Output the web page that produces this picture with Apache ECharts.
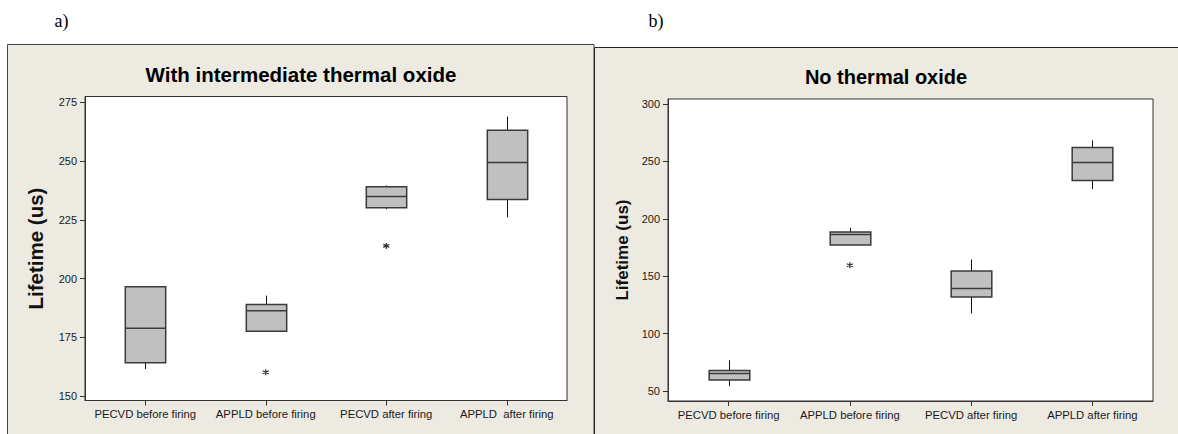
<!DOCTYPE html>
<html><head><meta charset="utf-8">
<script src="https://cdn.jsdelivr.net/npm/echarts@6/dist/echarts.min.js"></script>
<style>html,body{margin:0;padding:0;background:#fff}#c{width:1178px;height:434px}</style>
</head><body><div id="c"></div>
<script>
// ---- data ----
const categoriesA = ['PECVD before firing', 'APPLD before firing', 'PECVD after firing', 'APPLD  after firing'];
const categoriesB = ['PECVD before firing', 'APPLD before firing', 'PECVD after firing', 'APPLD after firing'];
// [min, Q1, median, Q3, max]
const boxA = [
  [161.6, 164.2, 178.9, 196.5, 196.8],
  [177.6, 177.6, 186.3, 189.0, 192.8],
  [229.5, 230.1, 234.9, 239.0, 239.6],
  [226.0, 233.6, 249.4, 263.1, 268.9]
];
const outliersA = [[1, 160.2], [2, 213.9]];
const boxB = [
  [54.4, 59.6, 65.2, 67.8, 76.8],
  [177.3, 177.3, 186.4, 188.6, 192.1],
  [117.5, 132.0, 139.3, 154.6, 164.6],
  [225.9, 233.4, 249.1, 262.2, 268.3]
];
const outliersB = [[1, 159.6]];
const ticksA = [150, 175, 200, 225, 250, 275];
const ticksB = [50, 100, 150, 200, 250, 300];
const titleA = 'With intermediate thermal oxide';
const titleB = 'No thermal oxide';
const yName = 'Lifetime (us)';

// ---- chart ----
const FONT = 'Liberation Sans';
const chart = echarts.init(document.getElementById('c'), null, {renderer: 'svg'});

function toRows(box) { return box.map((b, i) => [i].concat(b)); }

function renderBox(params, api) {
  const i = api.value(0);
  const mn = api.coord([i, api.value(1)]);
  const q1 = api.coord([i, api.value(2)]);
  const md = api.coord([i, api.value(3)]);
  const q3 = api.coord([i, api.value(4)]);
  const mx = api.coord([i, api.value(5)]);
  const w = api.size([1, 0])[0] * 0.335;
  const x = Math.round(q1[0]) + 0.5;
  const stroke = '#3a3a3a';
  return {
    type: 'group',
    children: [
      {type: 'line', shape: {x1: x, y1: q3[1], x2: x, y2: mx[1]}, style: {stroke: '#111', lineWidth: 1}},
      {type: 'line', shape: {x1: x, y1: q1[1], x2: x, y2: mn[1]}, style: {stroke: '#111', lineWidth: 1}},
      {type: 'rect', shape: {x: x - w / 2, y: q3[1], width: w, height: q1[1] - q3[1]},
        style: {fill: '#c0c0c0', stroke: stroke, lineWidth: 1.5}},
      {type: 'line', shape: {x1: x - w / 2, y1: md[1], x2: x + w / 2, y2: md[1]}, style: {stroke: stroke, lineWidth: 1.5}}
    ]
  };
}

const asterisk = 'path://M5,0L5,10M0.67,2.5L9.33,7.5M0.67,7.5L9.33,2.5';

function xAxisOpt(grid, cats) {
  return {
    gridIndex: grid, type: 'category', data: cats, boundaryGap: true,
    axisLine: {show: true, lineStyle: {color: '#333', width: 1}},
    axisTick: {show: true, alignWithLabel: true, length: 5, lineStyle: {color: '#333'}},
    axisLabel: {interval: 0, fontFamily: FONT, fontSize: 11.3, color: '#1a1a1a', margin: 8},
    splitLine: {show: false}
  };
}
function yAxisOpt(grid, min, max, ticks, nameSize, nameGap) {
  return {
    gridIndex: grid, type: 'value', min: min, max: max,
    name: yName, nameLocation: 'middle', nameGap: nameGap,
    nameTextStyle: {fontFamily: FONT, fontWeight: 'bold', fontSize: nameSize, color: '#111'},
    axisLine: {show: true, lineStyle: {color: '#333', width: 1}},
    axisTick: {show: true, length: 5, customValues: ticks, lineStyle: {color: '#333'}},
    axisLabel: {customValues: ticks, fontFamily: FONT, fontSize: 11, color: '#1a1a1a', margin: 8},
    splitLine: {show: false}
  };
}

const option = {
  backgroundColor: '#ffffff',
  animation: false,
  graphic: [
    {type: 'rect', z: -10, shape: {x: 7.5, y: 44.5, width: 586.5, height: 430}, style: {fill: '#edeae1', stroke: '#444', lineWidth: 1}},
    {type: 'rect', z: -10, shape: {x: 594.5, y: 47.5, width: 640, height: 430}, style: {fill: '#edeae1', stroke: '#222', lineWidth: 1}},
    {type: 'text', z: 10, x: 61.5, y: 21, style: {text: 'a)', font: '18px "Liberation Serif"', textAlign: 'center', textVerticalAlign: 'middle', fill: '#000'}},
    {type: 'text', z: 10, x: 656, y: 21, style: {text: 'b)', font: '18px "Liberation Serif"', textAlign: 'center', textVerticalAlign: 'middle', fill: '#000'}},
    {type: 'text', z: 10, x: 301, y: 74.5, style: {text: titleA, font: 'bold 20.5px "Liberation Sans"', textAlign: 'center', textVerticalAlign: 'middle', fill: '#000'}},
    {type: 'text', z: 10, x: 886, y: 76.5, style: {text: titleB, font: 'bold 20px "Liberation Sans"', textAlign: 'center', textVerticalAlign: 'middle', fill: '#000'}}
  ],
  grid: [
    {left: 85, top: 96.5, width: 482, height: 304, show: true, backgroundColor: '#ffffff', borderColor: '#333', borderWidth: 1},
    {left: 668, top: 99, width: 485, height: 302, show: true, backgroundColor: '#ffffff', borderColor: '#333', borderWidth: 1}
  ],
  xAxis: [xAxisOpt(0, categoriesA), xAxisOpt(1, categoriesB)],
  yAxis: [yAxisOpt(0, 148.2, 277.4, ticksA, 20.5, 39), yAxisOpt(1, 41.3, 304.4, ticksB, 17, 37)],
  series: [
    {type: 'custom', xAxisIndex: 0, yAxisIndex: 0, data: toRows(boxA), renderItem: renderBox, encode: {x: 0, y: [1, 2, 3, 4, 5]}},
    {type: 'custom', xAxisIndex: 1, yAxisIndex: 1, data: toRows(boxB), renderItem: renderBox, encode: {x: 0, y: [1, 2, 3, 4, 5]}},
    {type: 'scatter', xAxisIndex: 0, yAxisIndex: 0, data: outliersA, symbol: asterisk, symbolSize: 6,
      itemStyle: {color: '#000', borderColor: '#000', borderWidth: 1.3}},
    {type: 'scatter', xAxisIndex: 1, yAxisIndex: 1, data: outliersB, symbol: asterisk, symbolSize: 6,
      itemStyle: {color: '#000', borderColor: '#000', borderWidth: 1.3}}
  ]
};
chart.setOption(option);
</script>
</body></html>
